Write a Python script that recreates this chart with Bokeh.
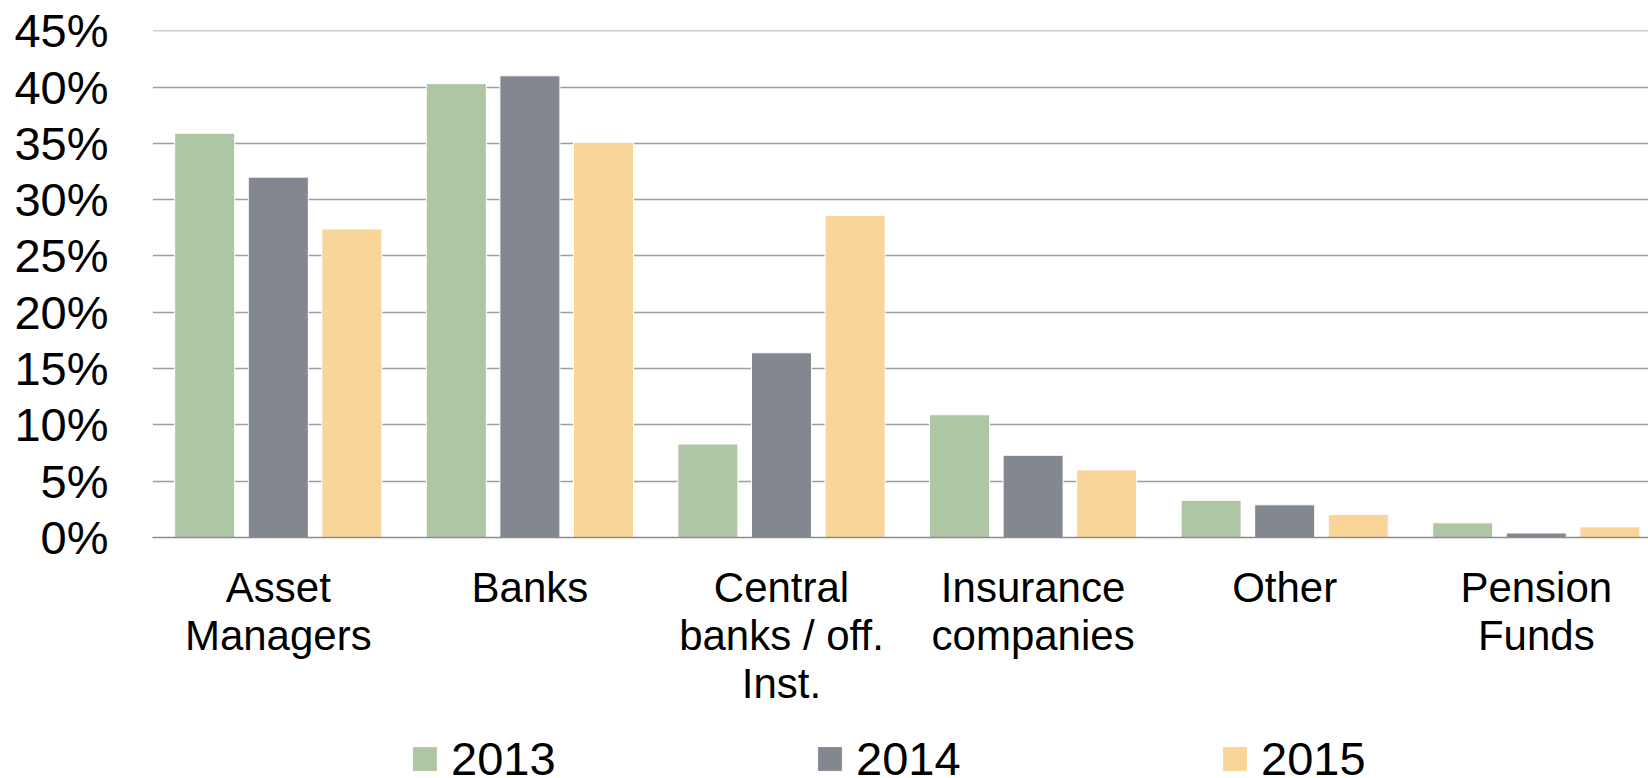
import numpy as np
from bokeh.plotting import figure
from bokeh.layouts import column
from bokeh.models import ColumnDataSource, Range1d, FixedTicker, PrintfTickFormatter, Legend, LegendItem
from bokeh.transform import dodge
from bokeh.embed import file_html
from bokeh.resources import INLINE

categories = ["Asset\nManagers", "Banks", "Central\nbanks / off.\nInst.",
              "Insurance\ncompanies", "Other", "Pension\nFunds"]
years = ["2013", "2014", "2015"]
share_2013 = [35.9, 40.3, 8.3, 10.9, 3.3, 1.3]
share_2014 = [32.0, 41.0, 16.4, 7.3, 2.9, 0.4]
share_2015 = [27.4, 35.1, 28.6, 6.0, 2.05, 0.95]
y_ticks = [0, 5, 10, 15, 20, 25, 30, 35, 40, 45]
colors = ["#AEC6A4", "#83878F", "#F9D59A"]

FONT = "Liberation Sans"
pos = list(np.arange(len(categories)) + 0.5)
source = ColumnDataSource(dict(x=pos, y2013=share_2013, y2014=share_2014, y2015=share_2015))

p = figure(width=1648, height=720,
           x_range=Range1d(0, 5.946), y_range=Range1d(0, 45.02),
           output_backend="svg", toolbar_location=None,
           min_border_left=152, min_border_right=0,
           min_border_top=30, min_border_bottom=183)
p.outline_line_color = None
p.background_fill_color = "white"
p.border_fill_color = "white"

offsets = [-0.2925, 0.0, 0.2925]
for yr, off, col in zip(years, offsets, colors):
    p.vbar(x=dodge("x", off, range=p.x_range), top="y" + yr, width=0.2385,
           source=source, fill_color=col, line_color="white", line_width=1)

# grid
p.xgrid.grid_line_color = None
p.ygrid.grid_line_color = "#9E9E9E"
p.ygrid.grid_line_width = 1.3
p.ygrid.ticker = FixedTicker(ticks=y_ticks)

# y axis
p.yaxis.ticker = FixedTicker(ticks=y_ticks)
p.yaxis.formatter = PrintfTickFormatter(format="%d%%")
p.yaxis.axis_line_color = None
p.yaxis.major_tick_line_color = None
p.yaxis.minor_tick_line_color = None
p.yaxis.major_tick_out = 0
p.yaxis.major_label_standoff = 44
p.yaxis.major_label_text_font = FONT
p.yaxis.major_label_text_font_size = "47px"
p.yaxis.major_label_text_color = "black"

# x axis
p.xaxis.ticker = FixedTicker(ticks=pos)
p.xaxis.major_label_overrides = {float(x): c for x, c in zip(pos, categories)}
p.xaxis.axis_line_color = "#8C8C8C"
p.xaxis.axis_line_width = 1.5
p.xaxis.major_tick_line_color = None
p.xaxis.minor_tick_line_color = None
p.xaxis.major_tick_out = 0
p.xaxis.major_label_standoff = 26
p.xaxis.major_label_text_font = FONT
p.xaxis.major_label_text_font_size = "42px"
p.xaxis.major_label_text_color = "black"
p.xaxis.major_label_text_line_height = 1.03

# legend strip below the chart
lg = figure(width=1648, height=58, x_range=Range1d(0, 1), y_range=Range1d(0, 1),
            output_backend="svg", toolbar_location=None,
            x_axis_type=None, y_axis_type=None,
            min_border_left=0, min_border_right=0, min_border_top=0, min_border_bottom=0)
lg.outline_line_color = None
lg.xgrid.visible = False
lg.ygrid.visible = False
leg_renderers = []
for yr, col in zip(years, colors):
    r = lg.vbar(x="x", top="y" + yr, width=0.2385, source=source,
                fill_color=col, line_color="white", line_width=1, visible=False)
    leg_renderers.append(r)

legend = Legend(items=[LegendItem(label=yr, renderers=[r]) for yr, r in zip(years, leg_renderers)],
                orientation="horizontal", location=(257, -8),
                glyph_width=31, glyph_height=31, label_standoff=11,
                label_width=128, spacing=235, padding=0, margin=0,
                border_line_color=None, background_fill_alpha=0,
                label_text_font=FONT, label_text_font_size="47px",
                label_text_color="black")
lg.add_layout(legend, "center")

layout = column(p, lg, spacing=0)
open("out.html", "w").write(file_html(layout, INLINE))
